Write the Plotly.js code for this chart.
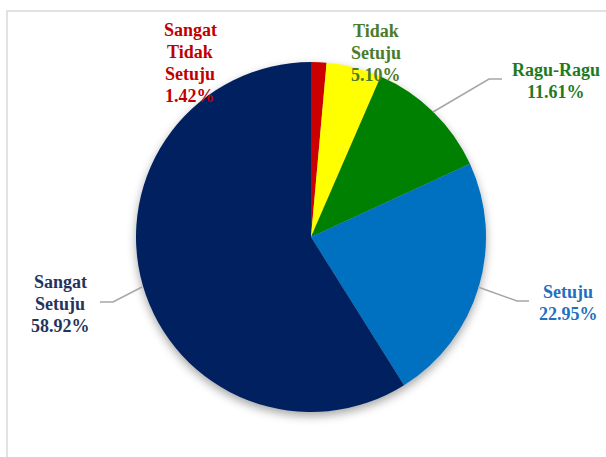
<!DOCTYPE html>
<html>
<head>
<meta charset="utf-8">
<script src="https://cdn.plot.ly/plotly-3.0.1.min.js"></script>
<style>
  html, body { margin: 0; padding: 0; background: #ffffff; }
  #chart { width: 606px; height: 457px; }
  #chart .annotation-text { font-family: "Liberation Serif", "Times New Roman", serif !important; }
</style>
</head>
<body>
<div id="chart"></div>
<script>
// Data
const categories = ["Sangat Tidak Setuju", "Tidak Setuju", "Ragu-Ragu", "Setuju", "Sangat Setuju"];
const labelLines = [["Sangat", "Tidak", "Setuju"], ["Tidak", "Setuju"], ["Ragu-Ragu"], ["Setuju"], ["Sangat", "Setuju"]];
const percentages = [1.42, 5.10, 11.61, 22.95, 58.92];

// Styles
const sliceColors = ["#CC0000", "#FFFF00", "#008000", "#0070C0", "#002060"];
const textColors = ["#C00000", "#4B7B2B", "#1E7B1E", "#1F70C0", "#1F3460"];
// label first-line center positions in pixels (center x, center y)
const labelPos = [[190, 30], [376, 31], [556, 70], [568, 292], [60, 282]];
const lineGap = 22;
const W = 606, H = 457;

const annotations = [];
categories.forEach((c, i) => {
  const lines = labelLines[i].concat([percentages[i].toFixed(2) + "%"]);
  lines.forEach((t, k) => {
    annotations.push({
      text: "<b>" + t + "</b>",
      x: labelPos[i][0] / W,
      y: 1 - (labelPos[i][1] + k * lineGap) / H,
      xref: "paper", yref: "paper",
      xanchor: "center", yanchor: "middle",
      showarrow: false,
      font: { family: "Liberation Serif", size: 18, color: textColors[i] }
    });
  });
});

function pathFrom(pts) {
  return pts.map((p, k) => (k ? "L" : "M") + (p[0] / W) + "," + (1 - p[1] / H)).join(" ");
}
const leaderPts = [
  [[433, 112], [489, 79], [502, 79]],
  [[478, 287], [517, 301], [529, 301]],
  [[142, 287], [113, 302], [100, 302]]
];
const shapes = leaderPts.map(pts => ({
  type: "path", xref: "paper", yref: "paper", path: pathFrom(pts),
  line: { color: "#A6A6A6", width: 1.5 }
}));
shapes.push({
  type: "rect", xref: "paper", yref: "paper", layer: "below",
  x0: 7 / W, x1: 1.05, y0: -0.05, y1: 1 - 11 / H,
  line: { color: "#D9D9D9", width: 1.5 }, fillcolor: "rgba(0,0,0,0)"
});

const trace = {
  type: "pie",
  labels: categories,
  values: percentages,
  sort: false,
  direction: "clockwise",
  rotation: 0,
  textinfo: "none",
  hoverinfo: "label+percent",
  marker: { colors: sliceColors, line: { width: 0 } },
  domain: { x: [136 / W, 486 / W], y: [45 / H, 395 / H] },
  showlegend: false
};

Plotly.newPlot("chart", [trace], {
  width: W, height: H,
  margin: { l: 0, r: 0, t: 0, b: 0 },
  paper_bgcolor: "#ffffff",
  plot_bgcolor: "#ffffff",
  showlegend: false,
  annotations: annotations,
  shapes: shapes
}, { displayModeBar: false, staticPlot: true }).then(gd => {
  const layer = gd.querySelector("g.pielayer");
  if (layer) layer.setAttribute("style", "filter: drop-shadow(0px 4px 5px rgba(0,0,0,0.35));");
});
</script>
</body>
</html>
